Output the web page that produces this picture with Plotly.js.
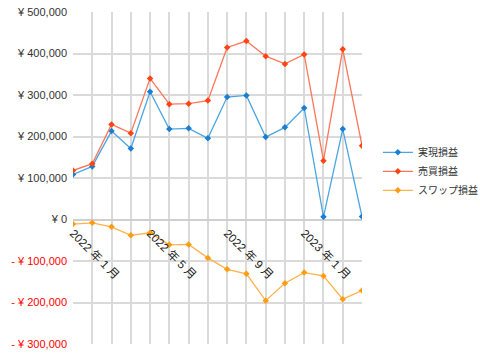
<!DOCTYPE html>
<html><head><meta charset="utf-8">
<script src="https://cdn.plot.ly/plotly-3.0.1.min.js"></script>
<style>html,body{margin:0;padding:0;background:#fff}#chart{width:480px;height:358px}</style>
</head><body><div id="chart"></div>
<script>
const months = ["2022-01","2022-02","2022-03","2022-04","2022-05","2022-06","2022-07","2022-08","2022-09","2022-10","2022-11","2022-12","2023-01","2023-02","2023-03","2023-04"];
const monthLabels = ["2022 年 1 月","","","","2022 年 5 月","","","","2022 年 9 月","","","","2023 年 1 月","","",""];
const realized = [108600,128000,213000,171000,308000,218000,219700,195500,295000,299000,198700,222000,268700,6500,218000,7000];
const trading = [118000,134500,229000,208000,340000,278000,279000,286500,414500,430000,393500,375000,397600,141700,410000,178000];
const swap = [-11000,-8000,-17700,-38000,-32000,-61000,-60000,-92500,-120000,-131000,-195500,-153700,-128000,-136000,-192000,-171000];
const seriesNames = ["実現損益","売買損益","スワップ損益"];
const yTickVals = [-300000,-200000,-100000,0,100000,200000,300000,400000,500000];

function yen(v){
  const s = Math.abs(v).toLocaleString('en-US');
  return v < 0 ? '<span style="color:#ff0000">- ¥ ' + s + '</span>' : '¥ ' + s;
}

const styles = [
  {line:'#4aa6e2', marker:'#1a7fd2'},
  {line:'#ff7558', marker:'#ff4412'},
  {line:'#ffb24a', marker:'#ff9c12'}
];
const data = [realized, trading, swap].map((ys,i)=>({
  type:'scatter', mode:'lines+markers', x:months.map((m,k)=>k), y:ys, name:seriesNames[i],
  line:{color:styles[i].line, width:1.3},
  marker:{color:styles[i].marker, symbol:'diamond', size:5}
}));

const layout = {
  width:480, height:358,
  margin:{l:73, r:118, t:12, b:14, autoexpand:false},
  paper_bgcolor:'#fff', plot_bgcolor:'#fff',
  font:{family:'"Liberation Sans", Arial, "Noto Sans CJK JP", sans-serif', size:11, color:'#333'},
  showlegend:true,
  legend:{x:1.055, xanchor:'left', y:0.52, yanchor:'middle',
    font:{family:'"Noto Sans CJK JP", sans-serif', size:10, color:'#333'}, bgcolor:'rgba(0,0,0,0)'},
  xaxis:{type:'linear', range:[0,15], tickvals:months.map((m,k)=>k), ticktext:monthLabels, tickangle:45,
    anchor:'free', position:0.375, showgrid:true, gridcolor:'#dadada', gridwidth:2,
    showline:false, ticks:'', zeroline:false, ticklabelstandoff:4, tickfont:{size:11.5, color:'#222'}},
  yaxis:{range:[-300000,500000], tickvals:yTickVals, ticktext:yTickVals.map(yen),
    showgrid:true, gridcolor:'#dadada', gridwidth:2, zeroline:true, zerolinecolor:'#cfcfcf', zerolinewidth:2,
    showline:false, ticks:'', ticklabelstandoff:5, tickfont:{size:11, color:'#333'}}
};
Plotly.newPlot('chart', data, layout, {displayModeBar:false, staticPlot:true});
</script></body></html>
